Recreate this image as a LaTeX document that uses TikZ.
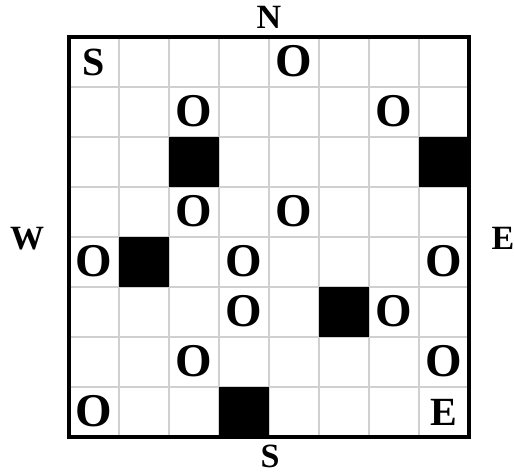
\documentclass[tikz,border=0pt]{standalone}
\usepackage{fontspec}
\setmainfont{Liberation Serif}
\definecolor{gridgray}{RGB}{208,208,208}
\begin{document}
\begin{tikzpicture}[x=1pt,y=-1pt,
  cellletter/.style={inner sep=0pt,font=\fontsize{40}{40}\selectfont\bfseries},
  ring/.style={inner sep=0pt,font=\fontsize{47}{47}\selectfont\bfseries},
  compass/.style={inner sep=0pt,font=\fontsize{34}{34}\selectfont\bfseries},
  wall/.style={fill=black},
  gridline/.style={draw=gridgray,line width=1.8pt},
  frame/.style={draw=black,line width=4pt}]
\useasboundingbox (0,0) rectangle (514,472);
\fill[white] (0,0) rectangle (514,472);
% grid lines
\foreach \i in {1,...,7} {
  \draw[gridline] (69+50*\i,37) -- (69+50*\i,437);
  \draw[gridline] (69,37+50*\i) -- (469,37+50*\i);
}
% black cells (col,row)
\foreach \c/\r in {2/2,7/2,1/4,5/5,3/7} {
  \fill[wall] (69+50*\c,37+50*\r) rectangle ++(50,50);
}
% frame
\draw[frame] (69,37) rectangle (469,437);
% letters
\node[cellletter] (start) at (94,62) {S};
\node[cellletter] (end) at (444,412) {E};
\foreach \c/\r [count=\k] in {4/0,2/1,6/1,2/3,4/3,0/4,3/4,7/4,3/5,6/5,2/6,7/6,0/7} {
  \node[ring] (o\k) at (94+50*\c,61+50*\r) {O};
}
% compass
\node[compass] (north) at (269,17.5) {N};
\node[compass] (south) at (270,456) {S};
\node[compass] (west) at (27,238.5) {W};
\node[compass] (east) at (503,238.5) {E};
\end{tikzpicture}
\end{document}
